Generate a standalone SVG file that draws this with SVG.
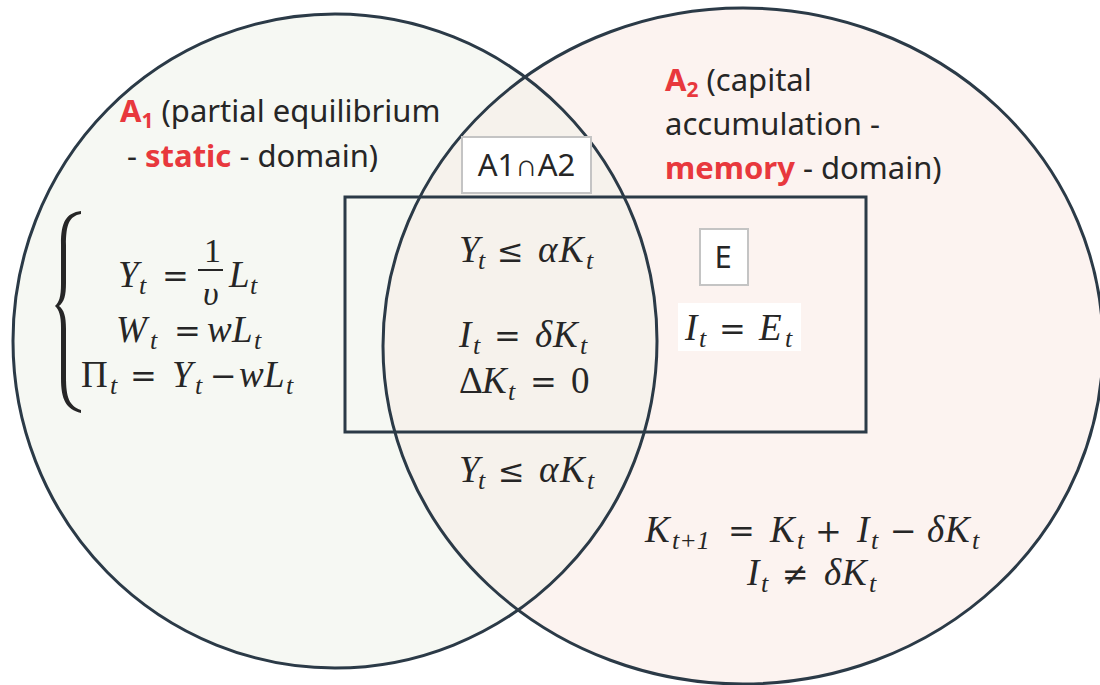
<svg xmlns="http://www.w3.org/2000/svg" width="1100" height="685" viewBox="0 0 1100 685">
<style>
.lbl{font-family:"Noto Sans","Open Sans",sans-serif;font-size:31px;fill:#262626}
.red{fill:#E8383D;font-weight:bold}
.m{font-family:"Liberation Serif",serif;font-size:37px;font-style:italic;fill:#262626}
.s{font-size:26px}
.u{font-style:normal}
.f{font-size:34px}
.op{font-family:"DejaVu Serif",serif;font-style:normal;font-size:32px}
.edge{fill:none;stroke:#2B3A47;stroke-width:3}
.box{fill:#FFFFFF;stroke:#C4C4C4;stroke-width:2}
.bt{font-family:"Noto Sans","Open Sans",sans-serif;font-size:31px;fill:#262626}
</style>
<defs>
<clipPath id="clipA1"><ellipse cx="335" cy="341" rx="322" ry="327"/></clipPath>
</defs>
<rect width="1100" height="685" fill="#FFFFFF"/>
<g id="A1">
<ellipse cx="335" cy="341" rx="322" ry="327" fill="#F6F8F3"/>
</g>
<g id="A2">
<ellipse cx="743" cy="346" rx="360" ry="338" fill="#FCF3F0"/>
</g>
<g id="intersection">
<ellipse cx="743" cy="346" rx="360" ry="338" fill="#F6F2EC" clip-path="url(#clipA1)"/>
</g>
<g id="outlines">
<ellipse class="edge" cx="335" cy="341" rx="322" ry="327"/>
<ellipse class="edge" cx="743" cy="346" rx="360" ry="338"/>
</g>
<g id="E-region">
<rect class="edge" x="345" y="197" width="521" height="235"/>
</g>

<g id="A1-label">
<text class="lbl" x="120" y="122"><tspan class="red">A</tspan><tspan class="red" font-size="21" dy="6">1</tspan><tspan dy="-6"> (partial equilibrium</tspan></text>
<text class="lbl" x="127" y="167">- <tspan class="red">static</tspan> - domain)</text>
</g>
<g id="A2-label">
<text class="lbl" x="665" y="91"><tspan class="red">A</tspan><tspan class="red" font-size="21" dy="6">2</tspan><tspan dy="-6"> (capital</tspan></text>
<text class="lbl" x="665" y="135">accumulation -</text>
<text class="lbl" x="665" y="179"><tspan class="red">memory</tspan> - domain)</text>
</g>

<g id="A1nA2-box">
<rect class="box" x="462" y="137" width="129" height="56"/>
<text class="bt" x="526.5" y="176" text-anchor="middle">A1∩A2</text>
</g>
<g id="E-box">
<rect class="box" x="700" y="229" width="48" height="56"/>
<text class="bt" x="723" y="268" text-anchor="middle">E</text>
</g>

<g id="A1-equations">
<path d="M81,211 C66,213 61,222 61,244 L61,284 C61,297 59,302 55,306 C59,310 61,315 61,328 L61,378 C61,400 66,409 81,413 L81,410 C69,406 66,397 66,377 L66,329 C66,316 64,310 59,306 C64,302 66,296 66,283 L66,245 C66,225 69,216 81,214 Z" fill="#262626"/>
<text class="m"><tspan x="118" y="287">Y</tspan><tspan class="s" x="139" y="294">t</tspan><tspan class="op" x="162" y="287">=</tspan><tspan class="u f" x="204" y="262">1</tspan><tspan class="f" x="203" y="305">υ</tspan><tspan x="229" y="287">L</tspan><tspan class="s" x="250" y="294">t</tspan></text>
<line x1="198" y1="270" x2="223" y2="270" stroke="#262626" stroke-width="2"/>
<text class="m"><tspan x="116" y="342">W</tspan><tspan class="s" x="150" y="349">t</tspan><tspan class="op" x="174" y="342">=</tspan><tspan x="207" y="342">w</tspan><tspan x="232" y="342">L</tspan><tspan class="s" x="254" y="349">t</tspan></text>
<text class="m"><tspan class="u" x="81" y="387">Π</tspan><tspan class="s" x="110" y="394">t</tspan><tspan class="op" x="130" y="387">=</tspan><tspan x="172" y="387">Y</tspan><tspan class="s" x="195" y="394">t</tspan><tspan class="op" x="210" y="387">−</tspan><tspan x="239" y="387">w</tspan><tspan x="264" y="387">L</tspan><tspan class="s" x="286" y="394">t</tspan></text>
</g>

<g id="center-equations">
<text class="m"><tspan x="459" y="262">Y</tspan><tspan class="s" x="478" y="269">t</tspan><tspan class="op" x="497" y="262">≤</tspan><tspan x="538" y="262">α</tspan><tspan x="559" y="262">K</tspan><tspan class="s" x="586" y="269">t</tspan></text>
<text class="m"><tspan x="459" y="347">I</tspan><tspan class="s" x="473" y="354">t</tspan><tspan class="op" x="494" y="347">=</tspan><tspan x="535" y="347">δ</tspan><tspan x="553" y="347">K</tspan><tspan class="s" x="580" y="354">t</tspan></text>
<text class="m"><tspan class="u" x="459" y="393">Δ</tspan><tspan x="482" y="393">K</tspan><tspan class="s" x="508" y="400">t</tspan><tspan class="op" x="530" y="393">=</tspan><tspan class="u" x="571" y="393">0</tspan></text>
<text class="m"><tspan x="459" y="482">Y</tspan><tspan class="s" x="478" y="489">t</tspan><tspan class="op" x="498" y="482">≤</tspan><tspan x="539" y="482">α</tspan><tspan x="560" y="482">K</tspan><tspan class="s" x="587" y="489">t</tspan></text>
</g>

<g id="E-equation">
<rect x="678" y="303" width="123" height="48" fill="#FFFFFF"/>
<text class="m"><tspan x="685" y="340">I</tspan><tspan class="s" x="699" y="347">t</tspan><tspan class="op" x="719" y="340">=</tspan><tspan x="759" y="340">E</tspan><tspan class="s" x="785" y="347">t</tspan></text>
</g>

<g id="A2-equations">
<text class="m"><tspan x="645" y="542">K</tspan><tspan class="s" x="672" y="549">t+1</tspan><tspan class="op" x="728" y="542">=</tspan><tspan x="770" y="542">K</tspan><tspan class="s" x="797" y="549">t</tspan><tspan class="op" x="815" y="542">+</tspan><tspan x="857" y="542">I</tspan><tspan class="s" x="871" y="549">t</tspan><tspan class="op" x="890" y="542">−</tspan><tspan x="927" y="542">δ</tspan><tspan x="945" y="542">K</tspan><tspan class="s" x="972" y="549">t</tspan></text>
<text class="m"><tspan x="747" y="585">I</tspan><tspan class="s" x="761" y="592">t</tspan><tspan class="op" x="782" y="585">≠</tspan><tspan x="824" y="585">δ</tspan><tspan x="842" y="585">K</tspan><tspan class="s" x="869" y="592">t</tspan></text>
</g>
</svg>
